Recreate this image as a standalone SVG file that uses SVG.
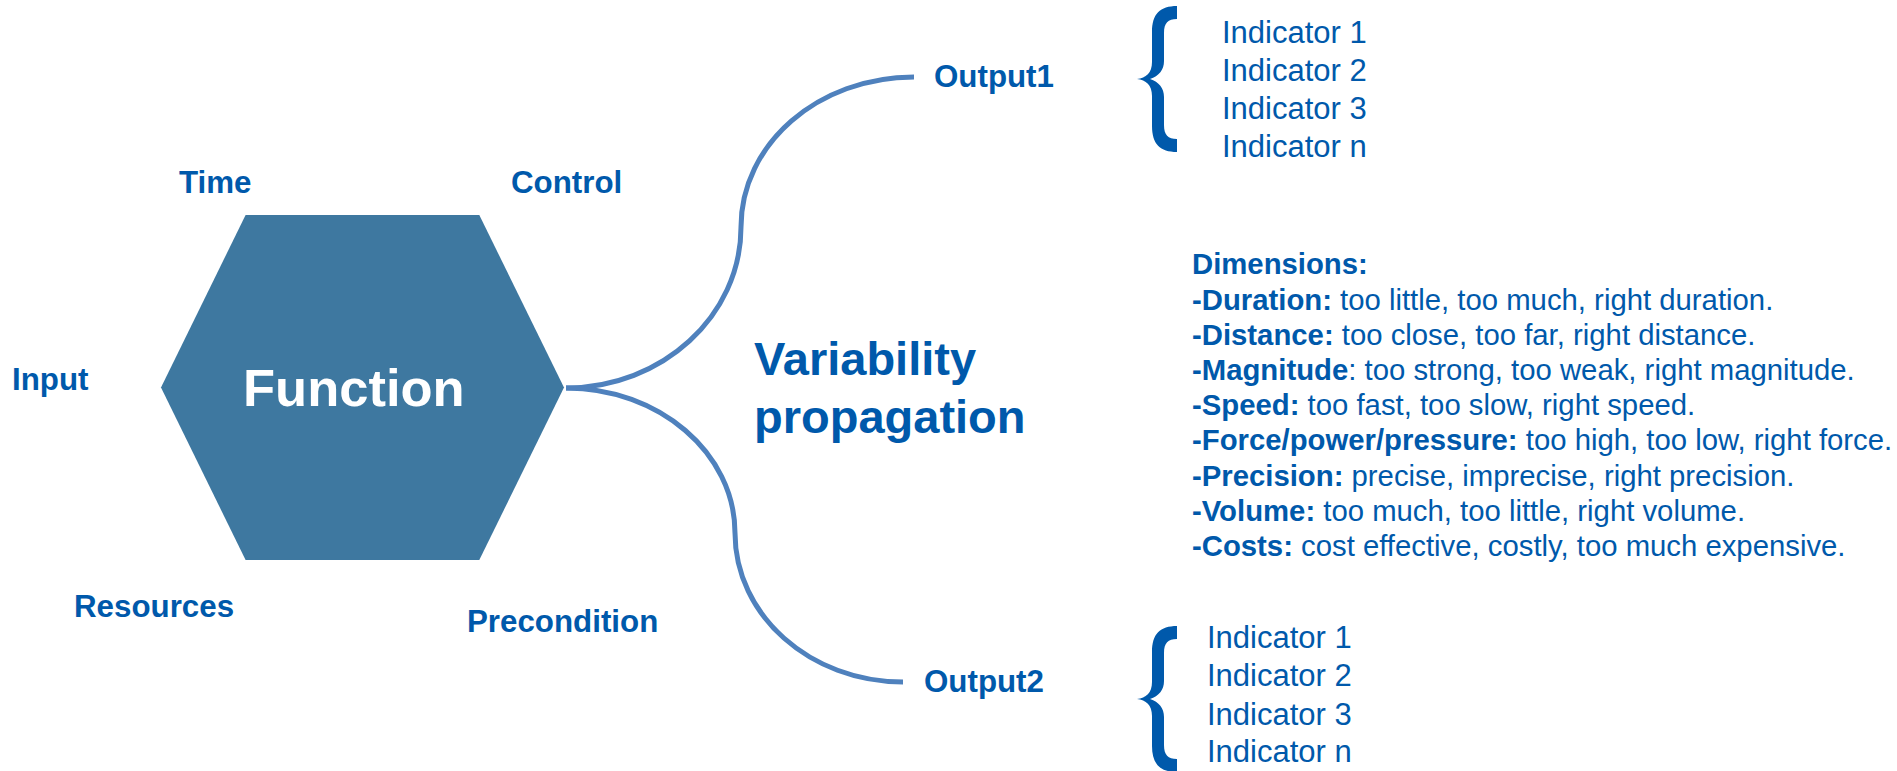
<svg xmlns="http://www.w3.org/2000/svg" width="1897" height="771" viewBox="0 0 1897 771">
<defs>
<style>
.lbl{font-family:"Liberation Sans",Arial,sans-serif;font-weight:bold;font-size:31.3px;fill:#0059AB}
.big{font-family:"Liberation Sans",Arial,sans-serif;font-weight:bold;font-size:47px;fill:#0059AB}
.ind{font-family:"Liberation Sans",Arial,sans-serif;font-size:31px;fill:#0059AB}
.dim{font-family:"Liberation Sans",Arial,sans-serif;font-size:29.3px;fill:#0059AB}
.dim tspan.b{font-weight:bold}
.conn{fill:none;stroke:#4F81BD;stroke-width:5}
.brace{fill:#0059AB}
</style>
<path id="bracePath" d="M1177 6 C1160 6 1152 14 1152 32 L1152 62 C1152 73 1146 78 1137 79 C1146 80 1152 85 1152 96 L1152 126 C1152 144 1160 152 1177 152 L1177 139 C1168 139 1164 135 1164 125 L1164 97 C1164 88 1159 82 1150 79 C1159 76 1164 70 1164 61 L1164 33 C1164 23 1168 19 1177 19 Z"/>
</defs>
<rect width="1897" height="771" fill="#FFFFFF"/>
<g id="connectors">
<path class="conn" d="M566 388 C662 388 741 316 741 227 C741 144 818 77 914 77"/>
<path class="conn" d="M566 388 C659 388 735 453 735 533 C735 615 810 682 903 682"/>
</g>
<g id="function">
<polygon points="245.6,215 479.3,215 564,387.5 479.3,560 245.6,560 161,387.5" fill="#3E78A0"/>
<text x="243" y="406" font-family="'Liberation Sans',Arial,sans-serif" font-weight="bold" font-size="52.5" fill="#FFFFFF">Function</text>
</g>
<g id="time"><text class="lbl" x="179" y="193">Time</text></g>
<g id="control"><text class="lbl" x="511" y="193">Control</text></g>
<g id="input"><text class="lbl" x="12" y="390">Input</text></g>
<g id="resources"><text class="lbl" x="74" y="617">Resources</text></g>
<g id="precondition"><text class="lbl" x="467" y="632">Precondition</text></g>
<g id="output1"><text class="lbl" x="934" y="87">Output1</text></g>
<g id="output2"><text class="lbl" x="924" y="692">Output2</text></g>
<g id="variability">
<text class="big" x="754" y="375">Variability</text>
<text class="big" x="754" y="433">propagation</text>
</g>
<g id="indicators1">
<use href="#bracePath" class="brace"/>
<text class="ind" x="1222" y="43">Indicator 1</text>
<text class="ind" x="1222" y="81">Indicator 2</text>
<text class="ind" x="1222" y="119">Indicator 3</text>
<text class="ind" x="1222" y="157">Indicator n</text>
</g>
<g id="indicators2">
<use href="#bracePath" class="brace" transform="translate(0,620)"/>
<text class="ind" x="1207" y="648">Indicator 1</text>
<text class="ind" x="1207" y="686">Indicator 2</text>
<text class="ind" x="1207" y="725">Indicator 3</text>
<text class="ind" x="1207" y="762">Indicator n</text>
</g>
<g id="dimensions">
<text class="dim" x="1192" y="274"><tspan class="b">Dimensions:</tspan></text>
<text class="dim" x="1192" y="310"><tspan class="b">-Duration:</tspan> too little, too much, right duration.</text>
<text class="dim" x="1192" y="345"><tspan class="b">-Distance:</tspan> too close, too far, right distance.</text>
<text class="dim" x="1192" y="380"><tspan class="b">-Magnitude</tspan>: too strong, too weak, right magnitude.</text>
<text class="dim" x="1192" y="415"><tspan class="b">-Speed:</tspan> too fast, too slow, right speed.</text>
<text class="dim" x="1192" y="450"><tspan class="b">-Force/power/pressure:</tspan> too high, too low, right force.</text>
<text class="dim" x="1192" y="486"><tspan class="b">-Precision:</tspan> precise, imprecise, right precision.</text>
<text class="dim" x="1192" y="521"><tspan class="b">-Volume:</tspan> too much, too little, right volume.</text>
<text class="dim" x="1192" y="556"><tspan class="b">-Costs:</tspan> cost effective, costly, too much expensive.</text>
</g>
</svg>
